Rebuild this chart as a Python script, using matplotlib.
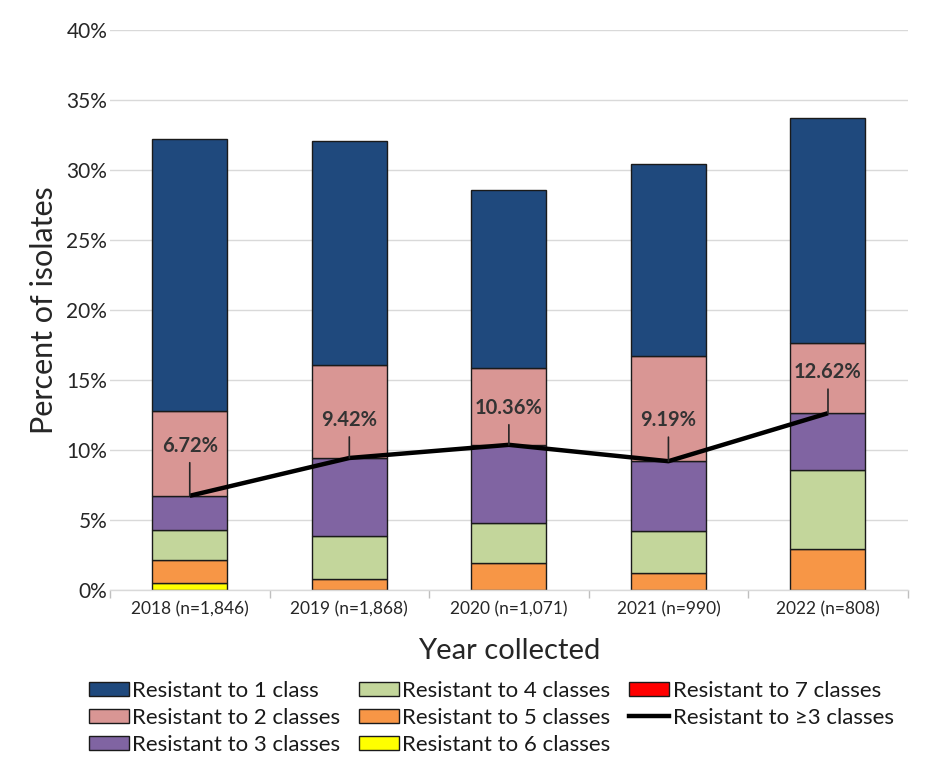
import numpy as np
from matplotlib import pyplot as plt
from matplotlib.lines import Line2D

plt.rcParams['font.family'] = ['Lato', 'DejaVu Sans']

years = ['2018 (n=1,846)', '2019 (n=1,868)', '2020 (n=1,071)', '2021 (n=990)', '2022 (n=808)']
# percent of isolates in each resistance group, per year
res1 = [19.45, 16.00, 12.70, 13.70, 16.10]
res2 = [6.03, 6.65, 5.50, 7.50, 5.00]
res3 = [2.47, 5.55, 5.60, 5.02, 4.05]
res4 = [2.15, 3.07, 2.83, 2.97, 5.64]
res5 = [1.60, 0.80, 1.93, 1.20, 2.93]
res6 = [0.50, 0.00, 0.00, 0.00, 0.00]
res7 = [0.00, 0.00, 0.00, 0.00, 0.00]
res3plus = [6.72, 9.42, 10.36, 9.19, 12.62]

labels = ['Resistant to 1 class', 'Resistant to 2 classes', 'Resistant to 3 classes',
          'Resistant to 4 classes', 'Resistant to 5 classes', 'Resistant to 6 classes',
          'Resistant to 7 classes']
colors = ['#1F497D', '#D99694', '#8064A2', '#C3D69B', '#F79646', '#FFFF00', '#FF0000']

fig = plt.figure(figsize=(9.32, 7.69), dpi=100)
ax = fig.add_axes([0.118, 0.233, 0.856, 0.728])

x = np.arange(len(years))
# stack from the top group (7) at the bottom up to 1 class at the top
stack = [res7, res6, res5, res4, res3, res2, res1]
stack_colors = colors[::-1]
bottom = np.zeros(len(years))
bars = {}
for vals, col, lab in zip(stack, stack_colors, labels[::-1]):
    vals = np.array(vals)
    b = ax.bar(x, vals, 0.47, bottom=bottom, color=col, edgecolor='#1a1a1a', linewidth=1.0,
               zorder=2, label=lab)
    bars[lab] = b
    bottom = bottom + vals

line, = ax.plot(x, res3plus, color='black', lw=3.2, zorder=4, solid_capstyle='butt')

# label offsets above the line point, in pixels
offsets = [40, 28, 27, 31, 31]
for xi, v, off in zip(x, res3plus, offsets):
    ax.annotate(f'{v:.2f}%', xy=(xi, v), xytext=(0, off * 0.72), textcoords='offset points',
                ha='center', va='bottom', fontsize=14.5, fontweight='bold', color='#333333',
                zorder=5,
                arrowprops=dict(arrowstyle='-', color='#262626', lw=1.2, shrinkA=3, shrinkB=0))

ax.set_ylim(0, 40)
ax.set_xlim(-0.5, len(years) - 0.5)
ax.set_yticks(np.arange(0, 41, 5))
ax.set_yticklabels([f'{t}%' for t in range(0, 41, 5)], fontsize=15, color='#262626')
ax.yaxis.grid(True, color='#d9d9d9', lw=1.0, zorder=0)
ax.set_axisbelow(True)
ax.tick_params(axis='y', length=0, pad=2)

ax.set_xticks(x)
ax.set_xticklabels(years, fontsize=12.5, color='#262626')
ax.set_xticks(np.arange(-0.5, len(years), 1), minor=True)
ax.tick_params(axis='x', which='major', length=0, pad=8)
ax.tick_params(axis='x', which='minor', length=6, color='#bfbfbf', width=1)

for s in ['top', 'right', 'left']:
    ax.spines[s].set_visible(False)
ax.spines['bottom'].set_color('#d9d9d9')
ax.spines['bottom'].set_linewidth(1.0)

ax.set_ylabel('Percent of isolates', fontsize=22, color='#262626', labelpad=6)
ax.set_xlabel('Year collected', fontsize=21, color='#262626', labelpad=15)

handles = [bars[l] for l in labels] + [Line2D([0], [0], color='black', lw=3.2)]
leg = fig.legend(handles, labels + ['Resistant to \u22653 classes'], ncol=3,
                 loc='lower center', bbox_to_anchor=(0.527, 0.0), frameon=False,
                 fontsize=16, handlelength=1.8, handleheight=0.6, handletextpad=0.15,
                 columnspacing=0.85, labelspacing=0.3, borderpad=0.15)
for t in leg.get_texts():
    t.set_color('#1a1a1a')

fig.savefig('out.png', dpi=100)
